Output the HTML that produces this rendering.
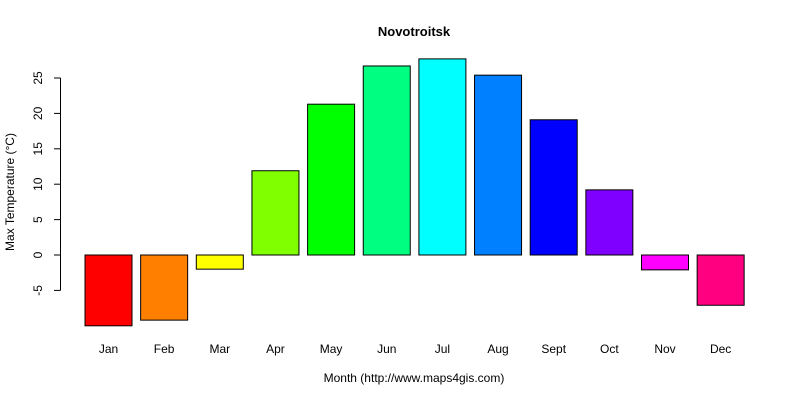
<!DOCTYPE html>
<html><head><meta charset="utf-8"><style>body{margin:0;background:#fff}svg{display:block;font-family:"Liberation Sans",Arial,sans-serif}</style></head>
<body>
<svg id="c" width="800" height="400">
<text x="414" y="36" text-anchor="middle" font-weight="bold" font-size="13">Novotroitsk</text>
<text x="414" y="382" text-anchor="middle" font-size="12">Month (http://www.maps4gis.com)</text>
<text transform="translate(14,192) rotate(-90)" text-anchor="middle" font-size="12">Max Temperature (°C)</text>
<g id="bars"></g><g id="yaxis"></g><g id="xlabels"></g>
</svg>
<script>
const months = ["Jan","Feb","Mar","Apr","May","Jun","Jul","Aug","Sept","Oct","Nov","Dec"];
const values = [-10.0,-9.2,-2.0,11.9,21.3,26.7,27.7,25.4,19.1,9.2,-2.1,-7.1];
const colors = ["#ff0000","#ff8000","#ffff00","#80ff00","#00ff00","#00ff80","#00ffff","#0080ff","#0000ff","#8000ff","#ff00ff","#ff0080"];
const yTicks = [-5,0,5,10,15,20,25];
const NS="http://www.w3.org/2000/svg";
const y = v => 255 - v*7.08;
const xc = i => 108.5 + i*55.65;
const bw = 47;
const bars=document.getElementById('bars'), ya=document.getElementById('yaxis'), xl=document.getElementById('xlabels');
function mk(t,a){const e=document.createElementNS(NS,t);for(const k in a)e.setAttribute(k,a[k]);return e;}
values.forEach((v,i)=>{
  const r=mk('rect',{x:xc(i)-bw/2,y:Math.min(y(v),y(0)),width:bw,height:Math.abs(y(v)-y(0)),fill:colors[i],stroke:'#000','stroke-width':1});
  
  
  bars.appendChild(r);
  const t=mk('text',{x:xc(i),y:353,'text-anchor':'middle','font-size':12});
  t.textContent=months[i];
  
  
  xl.appendChild(t);
});
const ax=mk('line',{x1:60.5,x2:60.5,y1:y(yTicks[yTicks.length-1]),y2:y(yTicks[0]),stroke:'#000'});


ya.appendChild(ax);
yTicks.forEach(v=>{
  const l=mk('line',{x1:54,x2:60.5,y1:y(v),y2:y(v),stroke:'#000'});
  
  
  ya.appendChild(l);
  const t=mk('text',{transform:`translate(42,${y(v)}) rotate(-90)`,'text-anchor':'middle','font-size':12});
  t.textContent=v;
  
  
  ya.appendChild(t);
});
</script>
</body></html>
